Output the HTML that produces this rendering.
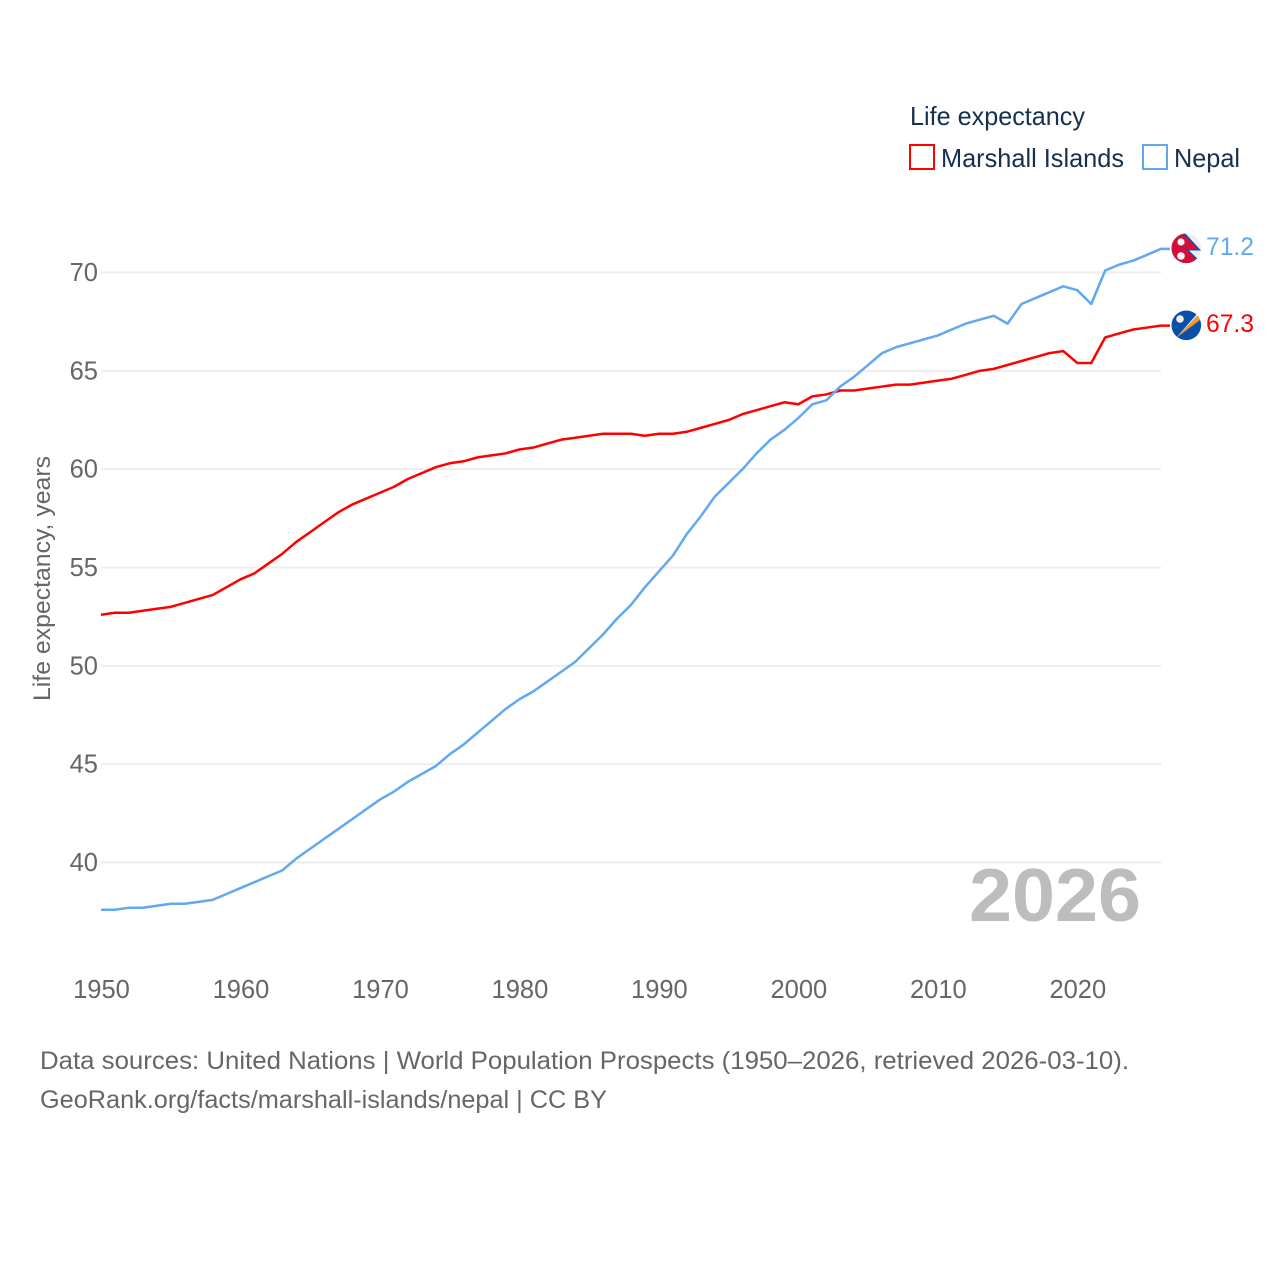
<!DOCTYPE html>
<html lang="en">
<head>
<meta charset="utf-8">
<title>Life expectancy: Marshall Islands and Nepal</title>
<style>
html,body{margin:0;padding:0;background:#fff;}
svg{display:block;font-family:"Liberation Sans",sans-serif;}
</style>
</head>
<body>
<svg id="chart" width="1280" height="1280" viewBox="0 0 1280 1280" xmlns="http://www.w3.org/2000/svg">
  <defs>
    <clipPath id="clip-nepal"><circle cx="1186.3" cy="248.3" r="14.8"/></clipPath>
    <clipPath id="clip-marshall"><circle cx="1186.3" cy="325.3" r="14.8"/></clipPath>
  </defs>
  <rect x="0" y="0" width="1280" height="1280" fill="#fff"/>
  <g id="grid"></g>
  <g id="ytick-group"></g>
  <g id="xtick-group"></g>
  <g id="series-group"></g>

  <text transform="translate(50,578.5) rotate(-90)" text-anchor="middle" font-size="24" fill="#666" textLength="245" lengthAdjust="spacingAndGlyphs">Life expectancy, years</text>

  <text x="969" y="921" font-size="75" font-weight="700" fill="#bdbdbd" textLength="172" lengthAdjust="spacingAndGlyphs">2026</text>

  <g>
    <text x="910" y="125" font-size="26" fill="#17304f" textLength="175" lengthAdjust="spacingAndGlyphs">Life expectancy</text>
    <g>
      <rect x="910" y="145" width="24" height="24" fill="none" stroke="#ff0000" stroke-width="2"/>
      <text x="941" y="167" font-size="26" fill="#17304f" textLength="183" lengthAdjust="spacingAndGlyphs">Marshall Islands</text>
    </g>
    <g>
      <rect x="1143" y="145" width="24" height="24" fill="none" stroke="#62a8f0" stroke-width="2"/>
      <text x="1174" y="167" font-size="26" fill="#17304f" textLength="66" lengthAdjust="spacingAndGlyphs">Nepal</text>
    </g>
  </g>

  <g clip-path="url(#clip-nepal)">
    <rect x="1170" y="232" width="32" height="33" fill="#eeeeee"/>
    <polygon points="1170,232 1184,232 1201,250.5 1189,250.5 1202,263 1202,266 1170,266" fill="#1450a8"/>
    <polygon points="1170,232 1182,232.5 1198,249.5 1186,249.5 1200,263 1200,266 1170,266" fill="#d0103a"/>
    <circle cx="1181" cy="242" r="3.6" fill="#f4f4f4"/>
    <circle cx="1181" cy="256" r="3.8" fill="#f4f4f4"/>
  </g>
  <g clip-path="url(#clip-marshall)">
    <rect x="1170" y="309" width="32" height="33" fill="#0a50a8"/>
    <polygon points="1176,338 1199,314 1200,320" fill="#f59a23"/>
    <polygon points="1176,338 1197,314 1199,314" fill="#f4f4f4"/>
    <circle cx="1180" cy="319" r="3.8" fill="#f0f0f0"/>
  </g>

  <text x="1206" y="255" font-size="25" fill="#62a8f0" textLength="48" lengthAdjust="spacingAndGlyphs">71.2</text>
  <text x="1206" y="332" font-size="25" fill="#ff0000" textLength="48" lengthAdjust="spacingAndGlyphs">67.3</text>

  <text x="40" y="1069" font-size="25" fill="#666" textLength="1089" lengthAdjust="spacingAndGlyphs">Data sources: United Nations | World Population Prospects (1950–2026, retrieved 2026-03-10).</text>
  <a><text x="40" y="1108" font-size="25" fill="#666" textLength="567" lengthAdjust="spacingAndGlyphs">GeoRank.org/facts/marshall-islands/nepal | CC BY</text></a>
</svg>
<script>
const startYear = 1950;
const marshallValues = [52.6,52.7,52.7,52.8,52.9,53.0,53.2,53.4,53.6,54.0,54.4,54.7,55.2,55.7,56.3,56.8,57.3,57.8,58.2,58.5,58.8,59.1,59.5,59.8,60.1,60.3,60.4,60.6,60.7,60.8,61.0,61.1,61.3,61.5,61.6,61.7,61.8,61.8,61.8,61.7,61.8,61.8,61.9,62.1,62.3,62.5,62.8,63.0,63.2,63.4,63.3,63.7,63.8,64.0,64.0,64.1,64.2,64.3,64.3,64.4,64.5,64.6,64.8,65.0,65.1,65.3,65.5,65.7,65.9,66.0,65.4,65.4,66.7,66.9,67.1,67.2,67.3];
const nepalValues = [37.6,37.6,37.7,37.7,37.8,37.9,37.9,38.0,38.1,38.4,38.7,39.0,39.3,39.6,40.2,40.7,41.2,41.7,42.2,42.7,43.2,43.6,44.1,44.5,44.9,45.5,46.0,46.6,47.2,47.8,48.3,48.7,49.2,49.7,50.2,50.9,51.6,52.4,53.1,54.0,54.8,55.6,56.7,57.6,58.6,59.3,60.0,60.8,61.5,62.0,62.6,63.3,63.5,64.2,64.7,65.3,65.9,66.2,66.4,66.6,66.8,67.1,67.4,67.6,67.8,67.4,68.4,68.7,69.0,69.3,69.1,68.4,70.1,70.4,70.6,70.9,71.2];
const yTicks = [40,45,50,55,60,65,70];
const xTicks = [1950,1960,1970,1980,1990,2000,2010,2020];

const NS = 'http://www.w3.org/2000/svg';
function xScale(year){ return 101 + (year - 1950) * (1060 / 76); }
function yScale(v){ return 862.5 - (v - 40) * (590 / 30); }

const gridGroup = document.getElementById('grid');
const yTickGroup = document.getElementById('ytick-group');
const xTickGroup = document.getElementById('xtick-group');
const seriesGroup = document.getElementById('series-group');

yTicks.forEach(function(t){
  const line = document.createElementNS(NS, 'line');
  
  
  line.setAttribute('x1', xScale(1950));
  line.setAttribute('x2', xScale(2026));
  line.setAttribute('y1', yScale(t));
  line.setAttribute('y2', yScale(t));
  line.setAttribute('stroke', '#eeeeee');
  line.setAttribute('stroke-width', '2');
  gridGroup.appendChild(line);

  const label = document.createElementNS(NS, 'text');
  
  
  label.setAttribute('x', 98);
  label.setAttribute('y', yScale(t) + 8.5);
  label.setAttribute('text-anchor', 'end');
  label.setAttribute('font-size', '25.5');
  label.setAttribute('fill', '#666');
  label.textContent = t;
  yTickGroup.appendChild(label);
});

xTicks.forEach(function(t){
  const label = document.createElementNS(NS, 'text');
  
  
  label.setAttribute('x', xScale(t) + 0.5);
  label.setAttribute('y', 998);
  label.setAttribute('text-anchor', 'middle');
  label.setAttribute('font-size', '25.5');
  label.setAttribute('fill', '#666');
  label.textContent = t;
  xTickGroup.appendChild(label);
});

function drawSeries(values, color, name){
  const pts = values.map(function(v, i){
    return xScale(startYear + i).toFixed(2) + ',' + yScale(v).toFixed(2);
  });
  const lastValue = values[values.length - 1];
  pts.push((xScale(startYear + values.length - 1) + 9).toFixed(2) + ',' + yScale(lastValue).toFixed(2));
  const line = document.createElementNS(NS, 'polyline');
  
  
  line.setAttribute('points', pts.join(' '));
  line.setAttribute('fill', 'none');
  line.setAttribute('stroke', color);
  line.setAttribute('stroke-width', '2.5');
  line.setAttribute('stroke-linejoin', 'round');
  seriesGroup.appendChild(line);
}
drawSeries(marshallValues, '#ff0000', 'marshall-islands-line');
drawSeries(nepalValues, '#62a8f0', 'nepal-line');
</script>
</body>
</html>
